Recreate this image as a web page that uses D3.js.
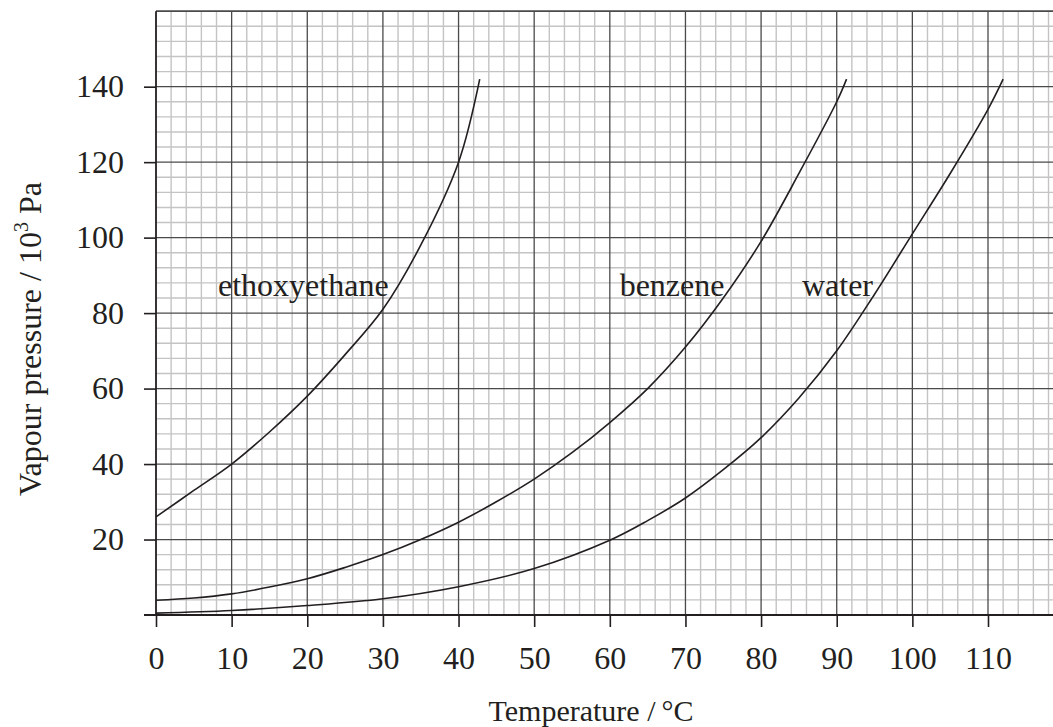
<!DOCTYPE html>
<html>
<head>
<meta charset="utf-8">
<script src="https://cdn.jsdelivr.net/npm/d3@7"></script>
<style>
  body { margin: 0; background: #fff; }
  svg text { font-family: "Liberation Serif", "Times New Roman", serif; fill: #231f20; }
</style>
</head>
<body>
<svg id="chart" width="1053" height="727"></svg>
<script>
// values
const ethoxyT = [0, 5, 10, 15, 20, 25, 30, 35, 40, 42.8];
const ethoxyP = [26, 33, 40, 48.5, 58, 69, 81, 98, 120, 142];

const benzeneT = [0, 5, 10, 15, 20, 25, 30, 35, 40, 45, 50, 55, 60, 65, 70, 75, 80, 85, 90, 91.3];
const benzeneP = [3.9, 4.5, 5.6, 7.4, 9.6, 12.6, 16, 20, 24.6, 30, 36, 43, 51, 60, 71, 84, 99, 117, 136, 142];

const waterT = [0, 10, 20, 30, 40, 50, 60, 65, 70, 75, 80, 85, 90, 95, 100, 105, 110, 112];
const waterP = [0.5, 1.2, 2.5, 4.3, 7.5, 12.3, 19.8, 25, 31, 38.5, 47, 57.5, 70, 85, 101, 117, 134, 142];

const seriesNames = ['ethoxyethane', 'benzene', 'water'];
const labelT = [8.2, 61.3, 85.4];
const labelP = [84.5, 84.5, 84.5];

const xTicks = [0, 10, 20, 30, 40, 50, 60, 70, 80, 90, 100, 110];
const yTicks = [20, 40, 60, 80, 100, 120, 140];

const svg = d3.select('#chart');

const x = d3.scaleLinear().domain([0, 110]).range([156, 988]);
const y = d3.scaleLinear().domain([0, 160]).range([615, 11.2]);
const xMax = 118.6;

// grid paper
let grid = svg.append('g');
let minorX = d3.range(2, xMax, 2).filter(v => v % 10 !== 0);
let minorY = d3.range(4, 160, 4).filter(v => v % 20 !== 0);
grid.selectAll('.mx').data(minorX).join('line')
  .attr('x1', d => x(d)).attr('x2', d => x(d))
  .attr('y1', y(0)).attr('y2', y(160))
  .attr('stroke', '#c4c4c4').attr('stroke-width', 1.4);
grid.selectAll('.my').data(minorY).join('line')
  .attr('x1', x(0)).attr('x2', x(xMax))
  .attr('y1', d => y(d)).attr('y2', d => y(d))
  .attr('stroke', '#c4c4c4').attr('stroke-width', 1.4);
grid.selectAll('.Mx').data(d3.range(10, xMax, 10)).join('line')
  .attr('x1', d => x(d)).attr('x2', d => x(d))
  .attr('y1', y(0)).attr('y2', y(160))
  .attr('stroke', '#4a4a4a').attr('stroke-width', 1.3);
grid.selectAll('.My').data(d3.range(20, 160, 20)).join('line')
  .attr('x1', x(0)).attr('x2', x(xMax))
  .attr('y1', d => y(d)).attr('y2', d => y(d))
  .attr('stroke', '#4a4a4a').attr('stroke-width', 1.3);
// top border
grid.append('line')
  .attr('x1', x(0)).attr('x2', x(xMax)).attr('y1', y(160)).attr('y2', y(160))
  .attr('stroke', '#4a4a4a').attr('stroke-width', 1.8);

// axes
let xAxis = d3.axisBottom(x).tickValues(xTicks).tickSize(12).tickPadding(19).tickSizeOuter(0);
let gx = svg.append('g').attr('transform', `translate(0,${y(0)})`).call(xAxis);
gx.select('.domain').remove();
gx.append('line').attr('x1', 144).attr('x2', x(xMax)).attr('stroke', '#231f20').attr('stroke-width', 1.8);
gx.selectAll('.tick line').attr('stroke', '#231f20').attr('stroke-width', 1.6);
gx.selectAll('.tick text').attr('font-size', 32).attr('fill', '#231f20');

let yAxis = d3.axisLeft(y).tickValues(yTicks).tickSize(12).tickPadding(20).tickSizeOuter(0);
let gy = svg.append('g').attr('transform', `translate(${x(0)},0)`).call(yAxis);
gy.select('.domain').remove();
gy.append('line').attr('y1', y(0)).attr('y2', y(160)).attr('stroke', '#231f20').attr('stroke-width', 1.8);
gy.selectAll('.tick line').attr('stroke', '#231f20').attr('stroke-width', 1.6);
gy.selectAll('.tick text').attr('font-size', 32).attr('fill', '#231f20');

// curves
const allT = [ethoxyT, benzeneT, waterT];
const allP = [ethoxyP, benzeneP, waterP];
let line = d3.line().x(d => x(d[0])).y(d => y(d[1])).curve(d3.curveCatmullRom.alpha(0.5));
allT.forEach((ts, i) => {
  let pts = ts.map((t, j) => [t, allP[i][j]]);
  svg.append('path').attr('d', line(pts))
    .attr('fill', 'none').attr('stroke', '#231f20').attr('stroke-width', 1.6);
});

// curve labels
svg.selectAll('.lab').data(seriesNames).join('text')
  .attr('x', (d, i) => x(labelT[i]))
  .attr('y', (d, i) => y(labelP[i]))
  .attr('font-size', 32)
  .text(d => d);

// axis titles
svg.append('text')
  .attr('x', 591).attr('y', 721)
  .attr('text-anchor', 'middle').attr('font-size', 30)
  .text('Temperature /\u2009°C');

let yt = svg.append('text')
  .attr('transform', 'translate(41,339) rotate(-90)')
  .attr('text-anchor', 'middle').attr('font-size', 32);
yt.append('tspan').text('Vapour pressure / 10');
yt.append('tspan').attr('font-size', 20).attr('dy', -13).text('3');
yt.append('tspan').attr('dy', 13).text(' Pa');
</script>
</body>
</html>
